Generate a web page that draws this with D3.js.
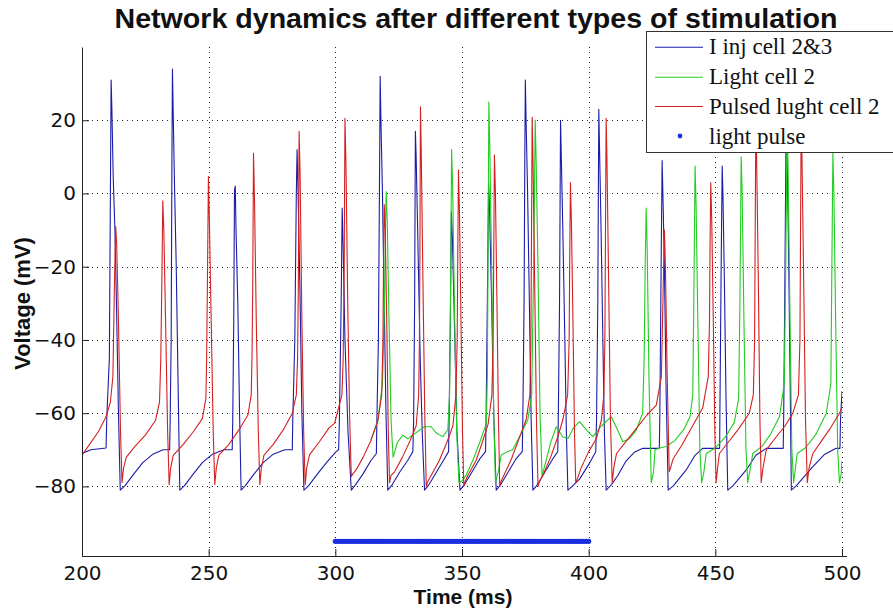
<!DOCTYPE html>
<html>
<head>
<meta charset="utf-8">
<script src="https://cdn.jsdelivr.net/npm/d3@7"></script>
<style>
body{margin:0;background:#fff}
</style>
</head>
<body>
<script>
// traces: [time (ms), voltage (mV)]
var iinjTrace = [
[200,-71],[203.5,-70],[209.5,-69.5],[209.8,-61],[210.8,-45],[211.3,10],[211.5,31],[211.8,23],[212.3,5],[213,-10],[213.6,-30],[214.4,-60],[215.1,-81],
[217,-79.8],[220,-77],[224,-73.5],[228,-71.2],[232,-70],[234.6,-70],
[234.8,-62],[235.2,-40],[235.5,10],[235.7,34],[236,22],[236.5,3],[237.2,-20],[238,-55],[238.6,-81],
[240.5,-79.8],[243.5,-77],[247.5,-73.5],[251.5,-71.2],[256,-70],[259.3,-70],
[259.5,-62],[259.9,-35],[260.2,1],[260.5,2],[260.8,-10],[261.5,-30],[262.2,-60],[262.8,-81],
[264.5,-79.8],[267.5,-77],[271.5,-73.5],[275.5,-71.2],[280,-70],[283,-70],
[283.2,-62],[284,-40],[284.6,0],[284.9,12],[285.3,0],[286,-25],[286.8,-60],[287.6,-81],
[289.5,-79.8],[292.5,-77],[296.5,-73.5],[300.3,-70.5],[301.3,-70],
[301.6,-62],[302.3,-30],[302.7,-4],[303.1,-15],[303.8,-40],[305,-65],[306.3,-81],
[308,-79.5],[311,-76.5],[314,-73],[316.2,-71],
[316.4,-62],[317,-40],[317.5,10],[317.7,32],[318,20],[318.6,0],[319.3,-30],[320,-60],[320.7,-81],
[322.5,-79.5],[325.5,-76],[328.5,-73],[330.6,-70.5],
[330.9,-62],[331.3,-30],[331.6,17],[331.9,10],[332.5,-10],[333.5,-45],[334.3,-65],[335.2,-81],
[337,-79.5],[340,-76],[343,-72.5],[344.7,-70.5],
[344.9,-62],[345.4,-35],[345.8,-5],[346.2,-12],[347,-35],[348,-65],[349.2,-81],
[351,-79.5],[354,-76],[357,-72.5],[359.3,-70.5],
[359.5,-62],[360,-30],[360.5,3],[360.9,-5],[361.7,-30],[362.6,-62],[363.5,-81],
[365.3,-79.5],[368.3,-76],[371.3,-72.5],[373.8,-70.5],
[374,-62],[374.5,-30],[374.8,10],[375,31],[375.3,20],[375.9,0],[376.6,-30],[377.3,-62],[378,-81],
[379.8,-79.5],[382.8,-76],[385.8,-72.5],[387.8,-70.5],
[388,-62],[388.5,-30],[388.9,20],[389.2,10],[389.8,-10],[390.6,-40],[391.2,-65],[391.8,-81],
[393.5,-80],[396.4,-78],[400.3,-73.7],[402.8,-70.5],
[403.1,-62],[403.6,-30],[404,23],[404.3,12],[404.9,-10],[405.6,-40],[406.2,-65],[406.9,-81],
[409,-79.5],[411.5,-77],[414.8,-73],[418,-70.7],[421.4,-69.6],[427.9,-69.6],
[428.1,-60],[428.6,-20],[429,9],[429.3,0],[429.9,-20],[430.6,-55],[431.4,-81],
[433.5,-79.8],[438.5,-75.5],[442,-71.5],[445,-69.6],[451.7,-69.6],
[451.8,-60],[452.3,-20],[452.7,7.5],[453,0],[453.6,-25],[454.2,-55],[454.9,-81],
[457,-79.8],[462.2,-75.5],[466,-71.5],[470.1,-69.6],[476.8,-69.6],
[477,-60],[477.5,-20],[478,24],[478.3,12],[478.9,-15],[479.5,-50],[480,-81],
[482,-79.8],[488.5,-74.6],[493,-71.3],[497.7,-69.6],[499.2,-69.6],[499.4,-62],[500,-54]
]

var lightTrace = [
[314,-67.5],[316.8,-62],[318.6,-52],[319.4,-30],[319.9,-5],[320.1,0.5],[320.5,-8],[321.2,-35],[322,-62],[322.8,-72],
[324.5,-68],[326.6,-66],[328.6,-67],[331.5,-65.5],[335.2,-63.7],[337.8,-63.7],[340,-65.5],[342.4,-66.4],[344.4,-64.6],
[345.1,-55],[345.5,-25],[345.9,12],[346.3,2],[347,-30],[347.9,-65],[348.8,-79],
[350,-78.5],[351.6,-77],[354.5,-72.5],[357,-68],[359.6,-62.8],
[360,-50],[360.3,-15],[360.6,25],[361,12],[361.7,-20],[362.5,-60],[363.2,-79],
[364.3,-76],[365.5,-71.4],[368,-70.5],[370,-70],[373,-66],[376,-61.8],
[377.5,-55],[378.3,-20],[378.9,20],[379.3,8],[380,-20],[380.8,-60],[381.6,-77],
[383,-73.5],[385,-68],[387.2,-63.7],[389.8,-66.5],[392,-66.8],[394,-64],[396.4,-62.3],[399,-64.5],[401.6,-66.4],[405,-63.5],[408.9,-61],[411,-64],[413.5,-67.8],[416,-67],[418.8,-64.6],[421.3,-60],
[421.9,-45],[422.3,-20],[422.7,-4],[423.1,-15],[423.8,-50],[424.7,-79],
[425.6,-76],[426.2,-70],[428,-69.5],[430.6,-69.1],[434,-67.5],[437.5,-64.5],[440,-61],[441.1,-55],
[441.5,-30],[442,7.5],[442.4,-3],[443.1,-35],[443.9,-70],[444.6,-79],
[445.5,-76],[446.4,-71],[450,-69.5],[454,-66.5],[457.5,-62.5],[459.2,-56],
[459.7,-30],[460.2,10],[460.6,0],[461.3,-35],[462.1,-70],[462.8,-79],
[463.8,-75],[464.8,-71],[468.5,-69],[472,-65.5],[475.3,-61],[477.2,-52],
[477.8,-20],[478.3,20],[478.7,8],[479.4,-30],[480.2,-70],[480.9,-79],
[481.6,-75],[482.3,-71],[485.5,-69.5],[489.5,-66],[493.8,-60],[495.6,-52],
[496,-20],[496.4,11],[496.8,0],[497.5,-35],[498.3,-70],[499,-79],[499.6,-77],[500,-73]
]

var pulsedTrace = [
[200,-71.5],[203,-68.5],[206.5,-65],[209.5,-61],[211.2,-57],
[212.2,-50],[212.8,-25],[213.3,-9],[213.7,-14],[214.4,-35],[215.2,-65],[215.8,-79],[216.4,-75],[217.5,-72],
[221,-69],[225,-66],[229,-62],[230.6,-57],
[231.1,-45],[231.5,-25],[231.9,-2],[232.3,-10],[233,-35],[233.8,-65],[234.4,-79.5],[235,-75],[236,-71.5],
[240,-68.5],[244,-65],[247.5,-61.5],[248.9,-56],
[249.2,-45],[249.5,-25],[249.9,4.6],[250.3,-8],[251,-35],[251.8,-65],[252.4,-79.5],[253,-75],[254,-71.5],
[258,-68.5],[262,-64.5],[265.5,-60.5],[266.8,-55],
[267.1,-45],[267.4,-25],[267.7,11],[268.1,-2],[268.8,-35],[269.6,-65],[270.2,-79.5],[270.8,-75],[271.8,-71.5],
[275.5,-68.5],[279.5,-64.5],[283,-60],[284.6,-55],
[285.1,-45],[285.4,-25],[285.7,17],[286.1,5],[286.8,-35],[287.5,-65],[288.1,-79.5],[288.7,-75],[289.8,-71.4],
[293.5,-68],[297.5,-64],[299.7,-62.8],[302.6,-55],
[303.1,-45],[303.5,-20],[303.8,20.5],[304.2,8],[304.9,-30],[305.6,-60],[306.3,-77.3],[307,-76.5],[308.2,-75.5],
[311,-72],[314,-67.5],[316.8,-62],[318.3,-55],
[318.8,-40],[319,-20],[319.3,-3],[319.7,-10],[320.3,-35],[320.9,-65],[321.4,-79],[322,-77],[323.4,-76],
[326.5,-72],[329.5,-67.5],[331.9,-63.5],[332.9,-55],
[333.2,-40],[333.4,-15],[333.6,23.7],[333.9,12],[334.6,-25],[335.3,-60],[335.9,-80],[336.6,-78.5],[337.8,-77],
[341,-73],[344,-68],[346.4,-63.5],[347.6,-55],
[348.1,-40],[348.3,-20],[348.6,6.4],[349,-5],[349.6,-35],[350.2,-65],[350.7,-80],[351.3,-78.5],[352.3,-77],
[355.5,-73],[358,-68],[360.3,-63],[361.8,-55],
[362.3,-40],[362.5,-20],[362.8,10.5],[363.2,0],[363.8,-30],[364.4,-62],[364.9,-80],[365.5,-78.5],[366.5,-77],
[369.5,-72.5],[372.5,-67],[375.3,-61.8],[376.8,-55],
[377.2,-40],[377.4,-15],[377.7,20.8],[378,10],[378.7,-25],[379.4,-62],[380,-80],[380.7,-78.5],[381.9,-77],
[385,-72],[387.8,-66.5],[389.8,-61.8],[391.7,-55],
[392.3,-40],[392.5,-20],[392.8,3],[393.2,-8],[393.8,-35],[394.4,-65],[394.9,-79],[395.5,-78],[397,-75],
[400,-70.5],[403,-67],[405,-62],[406,-55],
[406.4,-40],[406.6,-15],[406.9,20.5],[407.2,10],[407.9,-25],[408.6,-62],[409.3,-79],[409.9,-75],[411,-71],
[415,-67.5],[419,-64],[423,-60.5],[426.7,-57.8],[428.7,-50],
[429.3,-30],[429.9,-10],[430.3,-20],[431,-50],[431.8,-76],[432.5,-74.5],[433.3,-72.5],
[437,-68.5],[441,-63.5],[445,-58.6],[447.2,-50],
[447.7,-35],[447.9,-15],[448.2,3],[448.6,-8],[449.2,-35],[449.8,-65],[450.3,-79],[450.9,-75],[451.6,-71],
[455,-68],[459,-64.5],[463.4,-60],[465,-55],
[465.5,-40],[465.7,-15],[466,22],[466.3,10],[467,-25],[467.6,-62],[468.1,-79],[468.8,-75],[470.1,-70],
[474,-66.5],[477.5,-63.5],[480.6,-60],[482.8,-55],
[483.4,-40],[483.6,-15],[483.9,22],[484.2,10],[484.9,-25],[485.6,-62],[486.3,-79],[487,-75],[488.5,-71],
[492,-67.5],[495.5,-64],[499,-60],[500,-58.5]
]

var pulseTimes = [300,301,302,303,304,305,306,307,308,309,310,311,312,313,314,315,316,317,318,319,
	320,321,322,323,324,325,326,327,328,329,330,331,332,333,334,335,336,337,338,339,
	340,341,342,343,344,345,346,347,348,349,350,351,352,353,354,355,356,357,358,359,
	360,361,362,363,364,365,366,367,368,369,370,371,372,373,374,375,376,377,378,379,
	380,381,382,383,384,385,386,387,388,389,390,391,392,393,394,395,396,397,398,399,400]
var pulseLevel = -95

var xTicks = [200,250,300,350,400,450,500]
var yTicks = [-80,-60,-40,-20,0,20]

var legendLabels = ['I inj cell 2&3','Light cell 2','Pulsed lught cell 2','light pulse']
var colores = {iinj:'#1c1ca8', light:'#22cc22', pulsed:'#d42020', pulse:'#1a2ee0'}

var width = 893,
	height = 611

var svg = d3.select('body')
	.append('svg')
	.attr('width',width)
	.attr('height',height)
	.style('background','#fff')

var escalaX = d3.scaleLinear()
	.domain([200,500])
	.range([82,842])

var escalaY = d3.scaleLinear()
	.domain([-99,40])
	.range([556,47])

// dotted grid
svg.append('g')
	.selectAll('line')
	.data(xTicks.slice(1)).enter()
	.append('line')
	.attr('x1',d=>Math.round(escalaX(d))+0.5)
	.attr('x2',d=>Math.round(escalaX(d))+0.5)
	.attr('y1',escalaY.range()[1])
	.attr('y2',escalaY.range()[0])
	.attr('stroke','#222')
	.attr('stroke-dasharray','1,4')

svg.append('g')
	.selectAll('line')
	.data(yTicks).enter()
	.append('line')
	.attr('x1',escalaX.range()[0])
	.attr('x2',escalaX.range()[1])
	.attr('y1',d=>Math.round(escalaY(d))+0.5)
	.attr('y2',d=>Math.round(escalaY(d))+0.5)
	.attr('stroke','#222')
	.attr('stroke-dasharray','1,4')

svg.append('clipPath')
	.attr('id','area')
	.append('rect')
	.attr('x',escalaX.range()[0])
	.attr('y',escalaY.range()[1])
	.attr('width',escalaX.range()[1]-escalaX.range()[0])
	.attr('height',escalaY.range()[0]-escalaY.range()[1])

var linea = d3.line()
	.x(d=>escalaX(d[0]))
	.y(d=>escalaY(d[1]))

var trazos = svg.append('g').attr('clip-path','url(#area)')

var series = [
	{datos:iinjTrace, color:colores.iinj},
	{datos:lightTrace, color:colores.light},
	{datos:pulsedTrace, color:colores.pulsed}
]

trazos.selectAll('path')
	.data(series).enter()
	.append('path')
	.attr('d',d=>linea(d.datos))
	.attr('fill','none')
	.attr('stroke',d=>d.color)
	.attr('stroke-width',1.1)
	.attr('stroke-linejoin','round')

trazos.append('g')
	.selectAll('circle')
	.data(pulseTimes).enter()
	.append('circle')
	.attr('cx',d=>escalaX(d))
	.attr('cy',escalaY(pulseLevel))
	.attr('r',2.6)
	.attr('fill',colores.pulse)

// axes, ticks pointing inward
var ejeX = d3.axisBottom(escalaX)
	.tickValues(xTicks)
	.tickSizeInner(-7)
	.tickSizeOuter(0)
	.tickPadding(10)

var ejeY = d3.axisLeft(escalaY)
	.tickValues(yTicks)
	.tickSizeInner(-7)
	.tickSizeOuter(0)
	.tickPadding(6)

var gx = svg.append('g')
	.attr('transform','translate(0,'+escalaY.range()[0]+')')
	.call(ejeX)

var gy = svg.append('g')
	.attr('transform','translate('+escalaX.range()[0]+',0)')
	.call(ejeY)

gx.select('.domain').attr('d','M'+escalaX.range()[0]+',0.5H847')

;[gx,gy].forEach(g=>{
	g.selectAll('.domain').attr('stroke','#222')
	g.selectAll('.tick line').attr('stroke','#222')
	g.selectAll('text')
		.attr('font-family','DejaVu Sans')
		.attr('font-size',20)
		.attr('fill','#111')
})

// legend
var leg = svg.append('g')

leg.append('rect')
	.attr('x',646.5)
	.attr('y',31.5)
	.attr('width',260)
	.attr('height',121)
	.attr('fill','#fff')
	.attr('stroke','#333')

var filaY = [46.7,76.7,106,136]
var legColores = [colores.iinj,colores.light,colores.pulsed]

leg.selectAll('line')
	.data(legColores).enter()
	.append('line')
	.attr('x1',655)
	.attr('x2',703)
	.attr('y1',(d,i)=>filaY[i]+0.5)
	.attr('y2',(d,i)=>filaY[i]+0.5)
	.attr('stroke',d=>d)
	.attr('stroke-width',1.1)

leg.append('circle')
	.attr('cx',680)
	.attr('cy',filaY[3])
	.attr('r',2.4)
	.attr('fill',colores.pulse)

leg.selectAll('text')
	.data(legendLabels).enter()
	.append('text')
	.attr('x',709)
	.attr('y',(d,i)=>filaY[i]+7.5)
	.attr('font-family','Liberation Serif')
	.attr('font-size',23)
	.attr('fill','#111')
	.text(d=>d)

// labels
svg.append('text')
	.attr('x',476)
	.attr('y',28)
	.attr('text-anchor','middle')
	.attr('font-family','Liberation Sans')
	.attr('font-weight','bold')
	.attr('font-size',27)
	.attr('textLength',723)
	.attr('lengthAdjust','spacingAndGlyphs')
	.attr('fill','#111')
	.text('Network dynamics after different types of stimulation')

svg.append('text')
	.attr('x',463)
	.attr('y',604)
	.attr('text-anchor','middle')
	.attr('font-family','Liberation Sans')
	.attr('font-weight','bold')
	.attr('font-size',21)
	.attr('fill','#111')
	.text('Time (ms)')

svg.append('text')
	.attr('transform','translate(30,303.5) rotate(-90)')
	.attr('text-anchor','middle')
	.attr('font-family','Liberation Sans')
	.attr('font-weight','bold')
	.attr('font-size',22)
	.attr('fill','#111')
	.text('Voltage (mV)')
</script>
</body>
</html>
